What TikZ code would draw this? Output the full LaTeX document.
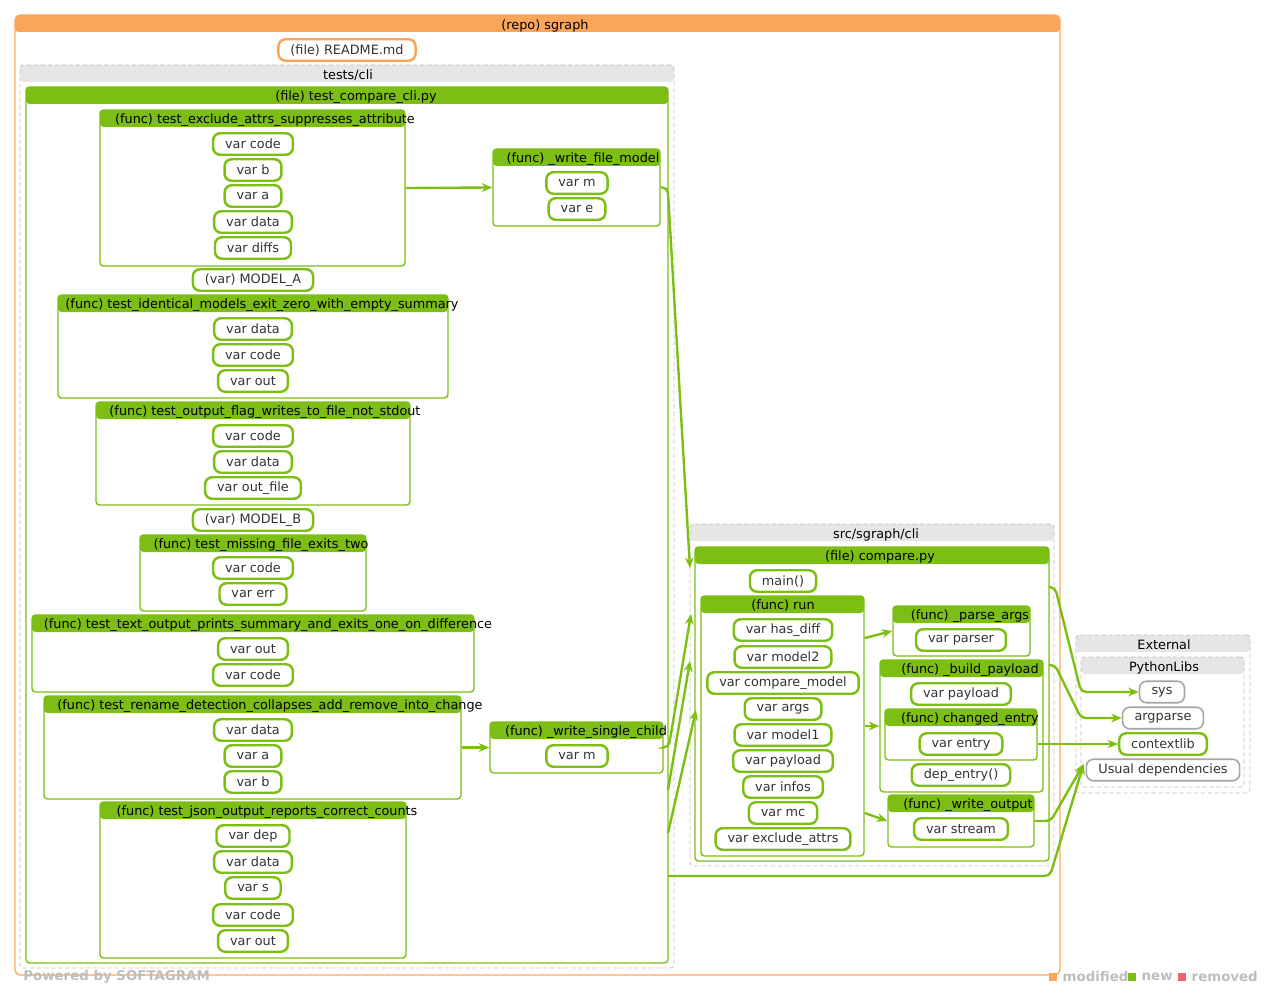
\documentclass[tikz,border=0pt]{standalone}
\usepackage{fontspec}
\setmainfont{DejaVu Sans}
\definecolor{SGOrange}{HTML}{F9A65A}
\definecolor{SGGreen}{HTML}{7DBE14}
\definecolor{SGGrey}{HTML}{C2C2C2}
\definecolor{SGHead}{HTML}{E6E6E6}
\definecolor{SGText}{HTML}{333333}
\definecolor{SGRed}{HTML}{F2606F}
\definecolor{SGLegend}{HTML}{BDBDBD}
\usetikzlibrary{positioning,arrows.meta,fit,calc}

\tikzset{
  repobox/.style={draw=SGOrange, line width=0.7pt, rounded corners=3pt},
  dirbox/.style={draw=SGGrey, dash pattern=on 2.5pt off 1.5pt, line width=0.5pt, rounded corners=2pt},
  greenbox/.style={draw=SGGreen, line width=0.8pt, rounded corners=2pt},
  htitle/.style={text=black, inner sep=0pt, yshift=-1pt},
  leaf/.style={draw=SGGreen, line width=1.4pt, rounded corners=4pt, fill=white, text=SGText,
    minimum height=0.43cm, inner xsep=0.24cm, inner ysep=0pt},
  extleaf/.style={leaf, draw=SGGrey!85!black, line width=0.9pt},
  readme/.style={leaf, draw=SGOrange},
  conn/.style={draw=SGGreen, line width=1.35pt, -{Stealth[length=6pt,width=5pt]}, rounded corners=3pt},
  legsq/.style={minimum size=0.16cm, inner sep=0pt},
  legtxt/.style={text=SGLegend, font=\fontsize{7.6}{9}\selectfont\bfseries, inner sep=0pt}
}

% group box: name, border style, header colour, top left, bottom right, title at, title
\newcommand{\grpbox}[7]{%
  \coordinate (#1-nw) at (#4);
  \coordinate (#1-se) at (#5);
  \fill[#3, rounded corners=2pt] (#1-nw) rectangle ($(#1-nw -| #1-se)+(0,17)$);
  \node[#2, fit=(#1-nw)(#1-se), inner sep=0pt] (#1) {};
  \node[htitle] at (#6) {#7};
}

\begin{document}
\begin{tikzpicture}[x=0.02cm, y=-0.02cm, font=\fontsize{7.3}{8.5}\selectfont]
  \useasboundingbox (0,0) rectangle (1265,990);

  % repository
  \grpbox{repo}{repobox}{SGOrange}{15,15}{1060,975}{545,24}{(repo) sgraph}
  \node[readme] (readme) at (347,50) {(file) README.md};

  % tests/cli
  \grpbox{testsdir}{dirbox}{SGHead}{20,65}{674,968}{348,73}{tests/cli}
  \grpbox{cli}{greenbox}{SGGreen}{26,87}{668,963}{356,95}{(file) test\_compare\_cli.py}

  \grpbox{fexcl}{greenbox}{SGGreen}{100,110}{405,266}{265,118}{(func) test\_exclude\_attrs\_suppresses\_attribute}
  \node[leaf] (fexclcode) at (253,144) {var code};
  \node[leaf] (fexclb) at (253,170) {var b};
  \node[leaf] (fexcla) at (253,196) {var a};
  \node[leaf] (fexcldata) at (253,222) {var data};
  \node[leaf] (fexcldiffs) at (253,248) {var diffs};

  \grpbox{wfm}{greenbox}{SGGreen}{493,149}{660,226}{583,157}{(func) \_write\_file\_model}
  \node[leaf] (wfmm) at (577,183) {var m};
  \node[leaf] (wfme) at (577,209) {var e};

  \node[leaf] (modela) at (253,280) {(var) MODEL\_A};

  \grpbox{fident}{greenbox}{SGGreen}{58,295}{448,398}{262,303}{(func) test\_identical\_models\_exit\_zero\_with\_empty\_summary}
  \node[leaf] (fidentdata) at (253,329) {var data};
  \node[leaf] (fidentcode) at (253,355) {var code};
  \node[leaf] (fidentout) at (253,381) {var out};

  \grpbox{fflag}{greenbox}{SGGreen}{96,402}{410,505}{265,410}{(func) test\_output\_flag\_writes\_to\_file\_not\_stdout}
  \node[leaf] (fflagcode) at (253,436) {var code};
  \node[leaf] (fflagdata) at (253,462) {var data};
  \node[leaf] (fflagfile) at (253,488) {var out\_file};

  \node[leaf] (modelb) at (253,520) {(var) MODEL\_B};

  \grpbox{fmiss}{greenbox}{SGGreen}{140,535}{366,611}{261,543}{(func) test\_missing\_file\_exits\_two}
  \node[leaf] (fmisscode) at (253,568) {var code};
  \node[leaf] (fmisserr) at (253,594) {var err};

  \grpbox{ftext}{greenbox}{SGGreen}{32,615}{474,692}{268,623}{(func) test\_text\_output\_prints\_summary\_and\_exits\_one\_on\_difference}
  \node[leaf] (ftextout) at (253,649) {var out};
  \node[leaf] (ftextcode) at (253,675) {var code};

  \grpbox{fren}{greenbox}{SGGreen}{44,696}{461,799}{270,704}{(func) test\_rename\_detection\_collapses\_add\_remove\_into\_change}
  \node[leaf] (frendata) at (253,730) {var data};
  \node[leaf] (frena) at (253,756) {var a};
  \node[leaf] (frenb) at (253,782) {var b};

  \grpbox{wsc}{greenbox}{SGGreen}{490,722}{663,773}{586,730}{(func) \_write\_single\_child}
  \node[leaf] (wscm) at (577,756) {var m};

  \grpbox{fjson}{greenbox}{SGGreen}{100,802}{406,958}{267,810}{(func) test\_json\_output\_reports\_correct\_counts}
  \node[leaf] (fjsondep) at (253,836) {var dep};
  \node[leaf] (fjsondata) at (253,862) {var data};
  \node[leaf] (fjsons) at (253,888) {var s};
  \node[leaf] (fjsoncode) at (253,915) {var code};
  \node[leaf] (fjsonout) at (253,941) {var out};

  % src/sgraph/cli
  \grpbox{srcdir}{dirbox}{SGHead}{690,524}{1054,866}{876,533}{src/sgraph/cli}
  \grpbox{cmp}{greenbox}{SGGreen}{695,547}{1049,861}{880,555}{(file) compare.py}
  \node[leaf] (main) at (783,581) {main()};

  \grpbox{run}{greenbox}{SGGreen}{701,596}{864,856}{783,604}{(func) run}
  \node[leaf] (runhas) at (783,630) {var has\_diff};
  \node[leaf] (runm2) at (783,657) {var model2};
  \node[leaf] (runcmp) at (783,683) {var compare\_model};
  \node[leaf] (runargs) at (783,709) {var args};
  \node[leaf] (runm1) at (783,735) {var model1};
  \node[leaf] (runpay) at (783,761) {var payload};
  \node[leaf] (runinfos) at (783,787) {var infos};
  \node[leaf] (runmc) at (783,813) {var mc};
  \node[leaf] (runexcl) at (783,839) {var exclude\_attrs};

  \grpbox{pa}{greenbox}{SGGreen}{893,606}{1030,656}{970,614}{(func) \_parse\_args}
  \node[leaf] (paparser) at (961,640) {var parser};

  \grpbox{bp}{greenbox}{SGGreen}{880,660}{1043,792}{970,668}{(func) \_build\_payload}
  \node[leaf] (bppay) at (961,694) {var payload};
  \grpbox{ce}{greenbox}{SGGreen}{885,709}{1037,760}{970,717}{(func) changed\_entry}
  \node[leaf] (ceentry) at (961,744) {var entry};
  \node[leaf] (depentry) at (961,775) {dep\_entry()};

  \grpbox{wo}{greenbox}{SGGreen}{888,795}{1034,847}{968,803}{(func) \_write\_output}
  \node[leaf] (wostream) at (961,829) {var stream};

  % external
  \grpbox{ext}{dirbox}{SGHead}{1076,635}{1250,793}{1164,643}{External}
  \grpbox{plib}{dirbox}{SGHead}{1081,657}{1244,787}{1164,666}{PythonLibs}
  \node[extleaf] (sys) at (1162,692) {sys};
  \node[extleaf] (argp) at (1163,718) {argparse};
  \node[leaf] (ctx) at (1163,744) {contextlib};
  \node[extleaf] (udeps) at (1163,770) {Usual dependencies};

  % connectors
  \coordinate (cmpin1) at (690,568);
  \coordinate (cmpin2) at (691,614);
  \coordinate (cmpin3) at (690,661);
  \coordinate (cmpin4) at (696,710);
  \coordinate (cliout1) at (668,790);
  \coordinate (cliout2) at (668,833);
  \coordinate (cliout3) at (668,876);
  \coordinate (cmpout1) at (1049,587);
  \coordinate (cmpout2) at (1049,665);
  \coordinate (udin) at ([shift={(-2,-6)}]udeps.west);

  \draw[conn] (fexcl.east) -- (wfm.west);
  \draw[conn] (wfm.east) -- ++(7,0) -- (cmpin1);
  \draw[conn] (fren.east) -- (wsc.west);
  \draw[conn] (wsc.east) -- ++(5,0) -- (cmpin2);
  \draw[conn] (cliout1) -- (cmpin3);
  \draw[conn] (cliout2) -- (cmpin4);
  \draw[conn] (cliout3) -- (1050,876) -- (udin);
  \draw[conn] (wo.east) -- ++(16,0) -- (udin);
  \draw[conn] (cmpout1) -- ++(6,0) -- (1081,692) -- (sys.west);
  \draw[conn] (cmpout2) -- ++(6,0) -- (1081,718) -- (argp.west);
  \draw[conn] (ce.east |- ctx.west) -- (ctx.west);
  \draw[conn] ([shift={(0,-88)}]run.east) -- (pa.west);
  \draw[conn] (run.east) -- (bp.west);
  \draw[conn] ([shift={(0,87)}]run.east) -- (wo.west);

  % legend
  \node[legtxt, anchor=west] (powered) at (23,977) {Powered by SOFTAGRAM};
  \node[legsq, fill=SGOrange] (sqmod) at (1053,977) {};
  \node[legtxt, right=0.1cm of sqmod] (lmod) {modified};
  \node[legsq, fill=SGGreen] (sqnew) at (1132,977) {};
  \node[legtxt, right=0.1cm of sqnew] (lnew) {new};
  \node[legsq, fill=SGRed] (sqrem) at (1182,977) {};
  \node[legtxt, right=0.1cm of sqrem] (lrem) {removed};
\end{tikzpicture}
\end{document}
